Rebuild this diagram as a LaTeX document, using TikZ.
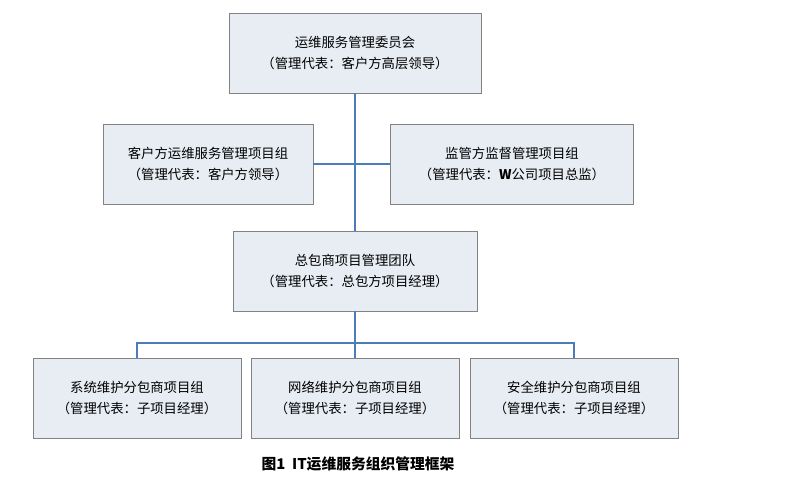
\documentclass[tikz,border=0pt]{standalone}
\usepackage{fontspec}
\setmainfont{Noto Sans CJK SC}
\usetikzlibrary{positioning}
\definecolor{boxfill}{RGB}{232,237,244}
\definecolor{boxline}{RGB}{130,130,130}
\definecolor{linkblue}{RGB}{74,126,187}

\begin{document}
\begin{tikzpicture}[x=0.025cm,y=-0.025cm,
                unit/.style={rectangle, draw=boxline, fill=boxfill, minimum height=2cm, align=center, font=\fontsize{9.5}{15}\selectfont},
                link/.style={draw=linkblue, line width=1.6pt}
            ]
                \useasboundingbox (0,0) rectangle (800,502);
                \node[unit, minimum width=6.3cm] (board) at (355,53) {运维服务管理委员会 \\ （管理代表：客户方高层领导）};
                \node[unit, minimum width=5.25cm] (client) at (208,164) {客户方运维服务管理项目组 \\ （管理代表：客户方领导）};
                \node[unit, minimum width=6.075cm] (super) at (512,164) {监管方监督管理项目组 \\ （管理代表：\textbf{W}公司项目总监）};
                \node[unit, minimum width=6.1cm] (prime) at (355,271) {总包商项目管理团队 \\ （管理代表：总包方项目经理）};
                \node[unit, minimum width=5.2cm] (sys) at (137,398) {系统维护分包商项目组 \\ （管理代表：子项目经理）};
                \node[unit, minimum width=5.2cm] (net) at (355,398) {网络维护分包商项目组 \\ （管理代表：子项目经理）};
                \node[unit, minimum width=5.2cm] (sec) at (574,398) {安全维护分包商项目组 \\ （管理代表：子项目经理）};

                \coordinate (hub) at (355,164);
                \coordinate (bus) at (355,343);

                \draw[link] (board) -- (prime);
                \draw[link] (client) -- (hub) -- (super);
                \draw[link] (prime) -- (bus);
                \draw[link] (sys.north) |- (bus) -| (sec.north);
                \draw[link] (bus) -- (net);

                \node[font=\bfseries\fontsize{10.5}{12}\selectfont] (title) at (358,464) {图1 \ IT运维服务组织管理框架};
            \end{tikzpicture}
\end{document}
